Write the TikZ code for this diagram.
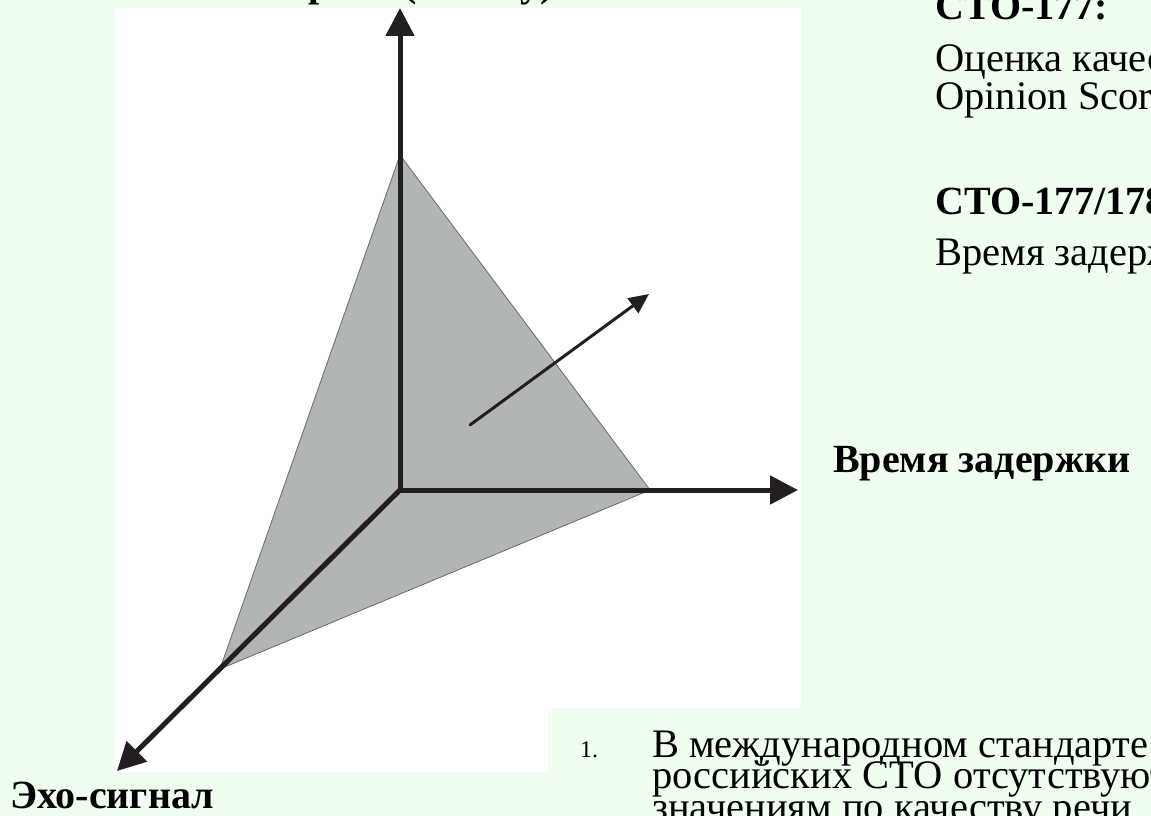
\documentclass[tikz,border=0pt]{standalone}
\usepackage{fontspec}
\setmainfont{Liberation Serif}
\usetikzlibrary{arrows.meta}

\definecolor{slidebg}{RGB}{240,254,240}
\definecolor{planegray}{RGB}{178,181,181}
\definecolor{planeedge}{RGB}{105,105,105}
\definecolor{axisblack}{RGB}{35,31,32}

\begin{document}
\begin{tikzpicture}[x=1pt,y=-1pt,
  axis/.style={line width=5pt,draw=axisblack,-{Triangle[length=28pt,width=28pt]}},
  normal/.style={line width=3pt,draw=axisblack,line cap=round,-{Triangle[length=20pt,width=18pt]}},
  plane/.style={fill=planegray,draw=planeedge,line width=0.8pt,line join=round},
  axlbl/.style={font=\fontsize{40}{40}\selectfont\bfseries,inner sep=0pt,anchor=base west},
  head/.style={font=\fontsize{40}{40}\selectfont\bfseries,inner sep=0pt,anchor=base west},
  txt/.style={font=\fontsize{40.5}{40}\selectfont,inner sep=0pt,anchor=base west}
]

%%%%%%%%%%%%%%%%%%%%%% slide background %%%%%%%%%%%%%%%%%%%%%%%%%%%%%%%%%%%
\useasboundingbox (0,0) rectangle (1151,816);
\fill[slidebg] (0,0) rectangle (1151,816);
\fill[white] (115,8) rectangle (801,772);
\fill[slidebg] (548,708) rectangle (1151,816);

%%%%%%%%%%%%%%%%%%%%%% axes and plane %%%%%%%%%%%%%%%%%%%%%%%%%%%%%%%%%%%%%
\coordinate (orig)  at (400,490);
\coordinate (ytip)  at (400,8);
\coordinate (xtip)  at (798,490);
\coordinate (ztip)  at (117,771);
\coordinate (pA)    at (400,155);
\coordinate (pB)    at (650,490);
\coordinate (pC)    at (220,669);
\coordinate (nfoot) at (470,425);
\coordinate (nhead) at (649,294);

\filldraw[plane] (pA) -- (pB) -- (pC) -- cycle;

\draw[axis] (orig) -- (ytip);
\draw[axis] (orig) -- (xtip);
\draw[axis] (orig) -- (ztip);
\draw[normal] (nfoot) -- (nhead);

%%%%%%%%%%%%%%%%%%%%%% axis labels %%%%%%%%%%%%%%%%%%%%%%%%%%%%%%%%%%%%%%%%
\node[axlbl] (quality) at (132,-3)  {Качество речи (MOS-у)};
\node[axlbl] (delay)   at (833,472) {Время задержки};
\node[axlbl] (echo)    at (10,808)  {Эхо-сигнал};

%%%%%%%%%%%%%%%%%%%%%% standards text %%%%%%%%%%%%%%%%%%%%%%%%%%%%%%%%%%%%%
\node[head] (sto1)  at (935,20)  {СТО-177:};
\node[txt]  (mos1)  at (935,72)  {Оценка качества речи (Mean};
\node[txt]  (mos2)  at (935,109) {Opinion Score)};
\node[head] (sto2)  at (935,214) {СТО-177/178:};
\node[txt]  (lat)   at (935,265) {Время задержки};

%%%%%%%%%%%%%%%%%%%%%% note at the bottom %%%%%%%%%%%%%%%%%%%%%%%%%%%%%%%%%
\node[font=\fontsize{24}{24}\selectfont,inner sep=0pt,anchor=base west] (num) at (580,757) {1.};
\node[txt] (note1) at (652,757) {В международном стандарте и в};
\node[txt] (note2) at (652,788) {российских СТО отсутствуют требования к};
\node[txt] (note3) at (652,820) {значениям по качеству речи};
\end{tikzpicture}
\end{document}
